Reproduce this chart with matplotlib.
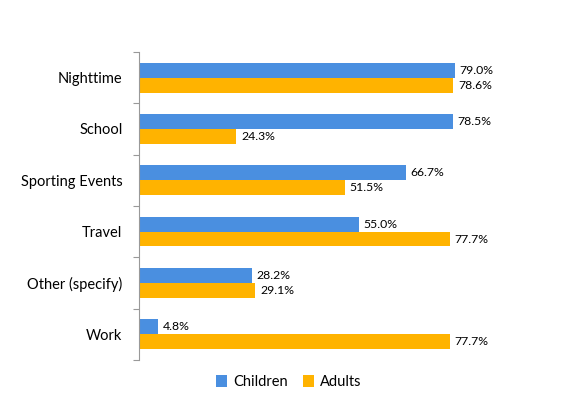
import matplotlib
matplotlib.use("Agg")
import matplotlib.pyplot as plt
import numpy as np

categories = ["Nighttime", "School", "Sporting Events", "Travel", "Other (specify)", "Work"]
children = [79.0, 78.5, 66.7, 55.0, 28.2, 4.8]
adults = [78.6, 24.3, 51.5, 77.7, 29.1, 77.7]

plt.rcParams['font.family'] = ['Lato', 'DejaVu Sans']

fig = plt.figure(figsize=(5.66, 4.19), dpi=100)
ax = fig.add_axes([0.2456, 0.141, 0.7064, 0.735])

y = np.arange(len(categories))
h = 0.29
blue = '#4A8FE0'
orange = '#FFB300'

b1 = ax.barh(y - h / 2, children, height=h, color=blue, label='Children')
b2 = ax.barh(y + h / 2, adults, height=h, color=orange, label='Adults')

for bars, vals in [(b1, children), (b2, adults)]:
    for bar, v in zip(bars, vals):
        ax.text(bar.get_width() + 1.2, bar.get_y() + bar.get_height() / 2, f"{v:.1f}%",
                va='center', ha='left', fontsize=8.8)

ax.set_xlim(0, 100)
ax.set_ylim(len(categories) - 0.5, -0.5)

# category labels in the middle, ticks at the boundaries
ax.set_yticks(np.arange(-0.5, len(categories), 1.0))
ax.set_yticklabels([])
ax.set_yticks(y, minor=True)
ax.set_yticklabels(categories, minor=True, fontsize=10.5)
ax.tick_params(axis='y', which='major', length=4, color='#999999', direction='out')
ax.tick_params(axis='y', which='minor', length=0, pad=12)

ax.set_xticks([])
for s in ['top', 'right', 'bottom']:
    ax.spines[s].set_visible(False)
ax.spines['left'].set_color('#999999')

fig.legend(handles=[b1, b2], loc='center', bbox_to_anchor=(0.51, 0.088), ncol=2,
           frameon=False, fontsize=10.5, handlelength=0.8, handleheight=0.8,
           columnspacing=1.0, handletextpad=0.4)

fig.savefig('out.png', dpi=100)
